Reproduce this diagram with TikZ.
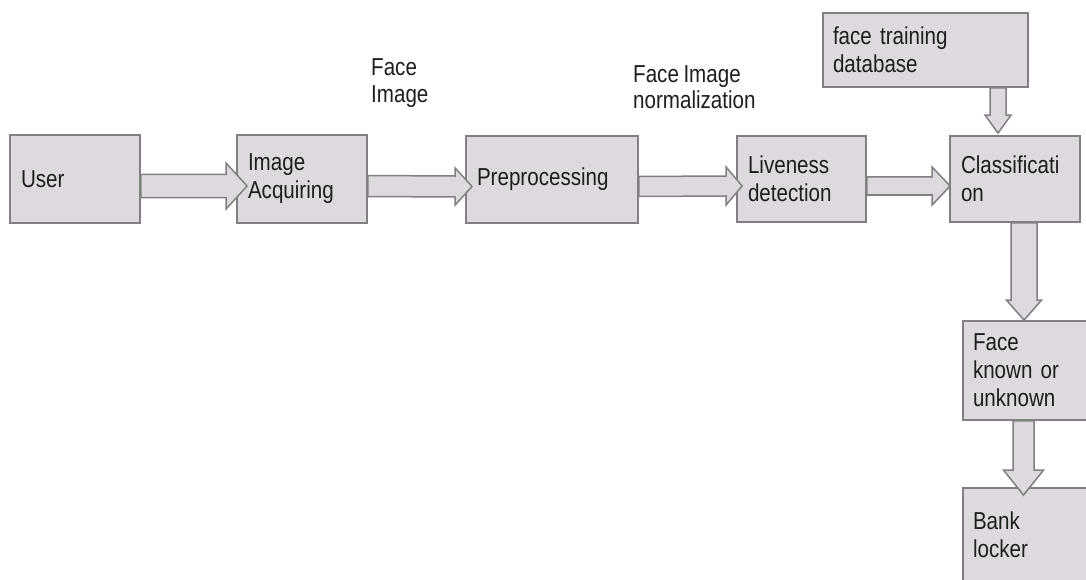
\documentclass[tikz,border=0pt]{standalone}
\usepackage{fontspec}
\setmainfont{Liberation Sans}
\newfontfamily\tallfont[FakeStretch=0.84,WordSpace=0.8]{Liberation Sans}
\usetikzlibrary{calc}
\definecolor{boxfill}{RGB}{221,217,222}
\definecolor{boxline}{RGB}{128,128,128}
\definecolor{txt}{RGB}{30,30,30}
\tikzset{
  blk/.style={draw=boxline, fill=boxfill, line width=1.8pt, inner xsep=11pt, inner ysep=0pt,
    align=left, font=\tallfont\fontsize{24.5}{28}\selectfont, text=txt},
  lbl/.style={inner sep=0pt, align=left, text=txt},
  blockarrow/.style={draw=boxline, fill=boxfill, line width=1.5pt, line join=miter}
}
% horizontal block arrow: from, to, overshoot, shaft half, head half, head length
\newcommand\hblock[6]{%
  \draw[blockarrow] ($(#1.east)+(0,7-#4)$) -- ($(#2.west)+(#3-#6,7-#4)$)
    -- ($(#2.west)+(#3-#6,7-#5)$) -- ($(#2.west)+(#3,7)$)
    -- ($(#2.west)+(#3-#6,7+#5)$) -- ($(#2.west)+(#3-#6,7+#4)$)
    -- ($(#1.east)+(0,7+#4)$) -- cycle;}
% vertical block arrow: from, to, x offset, overshoot, shaft half, head half, head length
\newcommand\vblock[7]{%
  \draw[blockarrow] ($(#1.south -| #2.north)+(#3-#5,0)$) -- ($(#2.north)+(#3-#5,#4-#7)$)
    -- ($(#2.north)+(#3-#6,#4-#7)$) -- ($(#2.north)+(#3,#4)$)
    -- ($(#2.north)+(#3+#6,#4-#7)$) -- ($(#2.north)+(#3+#5,#4-#7)$)
    -- ($(#1.south -| #2.north)+(#3+#5,0)$) -- cycle;}
\begin{document}
\begin{tikzpicture}[x=1pt,y=-1pt]
\useasboundingbox (0,0) rectangle (1086,580);
\clip (0,0) rectangle (1086,580);
\node[blk, text width=108pt, minimum width=130pt, minimum height=88pt] (user) at (75,179) {User};
\node[blk, text width=108pt, minimum width=130pt, minimum height=88pt] (acq) at (302,179) {Image\\Acquiring};
\node[blk, text width=150pt, minimum width=172pt, minimum height=87pt] (prep) at (552,179.5) {Preprocessing};
\node[blk, text width=107pt, minimum width=129pt, minimum height=86pt] (live) at (801.5,179) {Liveness\\detection};
\node[blk, text width=108pt, minimum width=130pt, minimum height=86pt] (class) at (1015,179) {Classificati\\on};
\node[blk, inner xsep=10pt, text width=185pt, minimum width=205pt, minimum height=74pt] (db) at (925.5,50) {face training\\database};
\node[blk, inner xsep=10pt, text width=105pt, minimum width=125pt, minimum height=99pt] (known) at (1025.5,370.5) {Face\\known or\\unknown};
\node[blk, inner xsep=10pt, text width=105pt, minimum width=125pt, minimum height=120pt, text depth=54.5pt] (bank) at (1025.5,548) {Bank\\locker};

\node[lbl, font=\tallfont\fontsize{24.5}{27}\selectfont, anchor=north west] (lblface) at (371,58) {Face\\Image};
\node[lbl, font=\tallfont\fontsize{24.5}{26}\selectfont, anchor=north west] (lblnorm) at (633,65) {Face Image\\normalization};

\hblock{user}{acq}{11}{11.5}{23}{21}
\hblock{acq}{prep}{7}{10.5}{18.5}{17}
\hblock{prep}{live}{6}{10}{19}{16}
\hblock{live}{class}{1}{9}{19}{18}
\vblock{db}{class}{-17}{-2}{8}{13}{18}
\vblock{class}{known}{-1.5}{0}{13}{17.5}{20}
\vblock{known}{bank}{-2}{8}{10.5}{20}{25}
\end{tikzpicture}
\end{document}
